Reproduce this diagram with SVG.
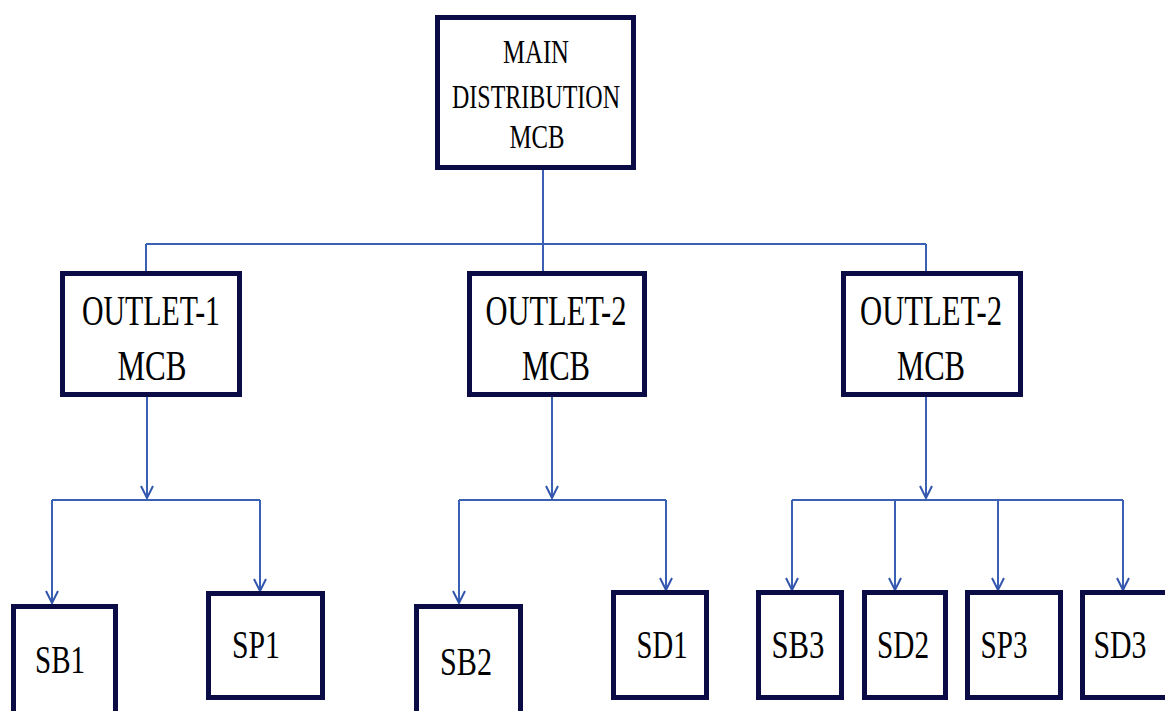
<svg xmlns="http://www.w3.org/2000/svg" width="1165" height="711" viewBox="0 0 1165 711">
<defs>
<marker id="arr" viewBox="-1 -7 15 14" refX="12" refY="0" markerWidth="15" markerHeight="14" markerUnits="userSpaceOnUse" orient="auto">
<path d="M0,-6 L12,0 L0,6" fill="none" stroke="#3356ad" stroke-width="2"/>
</marker>
<style>
.box{fill:#ffffff;stroke:#0b0b45;stroke-width:5}
.t{font-family:"Liberation Serif","Times New Roman",serif;fill:#000;text-anchor:middle}
.m{font-size:34px}
.o{font-size:42px}
.l{font-size:40px}
.c{fill:none;stroke:#3a60b4;stroke-width:2}
</style>
</defs>
<rect width="1165" height="711" fill="#ffffff"/>
<g id="connectors">
<path class="c" d="M543 170 V244 M146 244 H926 M146 244 V271 M543 244 V271 M926 244 V271"/>
<path class="c" d="M147 397 V498" marker-end="url(#arr)"/>
<path class="c" d="M52 500 H260"/>
<path class="c" d="M52 500 V603" marker-end="url(#arr)"/>
<path class="c" d="M260 500 V591" marker-end="url(#arr)"/>
<path class="c" d="M552 397 V498" marker-end="url(#arr)"/>
<path class="c" d="M459 500 H666"/>
<path class="c" d="M459 500 V603" marker-end="url(#arr)"/>
<path class="c" d="M666 500 V590" marker-end="url(#arr)"/>
<path class="c" d="M926 397 V498" marker-end="url(#arr)"/>
<path class="c" d="M792 500 H1123"/>
<path class="c" d="M792 500 V590" marker-end="url(#arr)"/>
<path class="c" d="M895 500 V590" marker-end="url(#arr)"/>
<path class="c" d="M998 500 V590" marker-end="url(#arr)"/>
<path class="c" d="M1123 500 V590" marker-end="url(#arr)"/>
</g>
<g id="main">
<rect class="box" x="437.5" y="17.5" width="196" height="150"/>
<text class="t m" x="536" y="63" textLength="66" lengthAdjust="spacingAndGlyphs">MAIN</text>
<text class="t m" x="536" y="108" textLength="168" lengthAdjust="spacingAndGlyphs">DISTRIBUTION</text>
<text class="t m" x="537" y="148" textLength="55" lengthAdjust="spacingAndGlyphs">MCB</text>
</g>
<g id="outlet1">
<rect class="box" x="62.5" y="273.5" width="177" height="121"/>
<text class="t o" x="151" y="325" textLength="138" lengthAdjust="spacingAndGlyphs">OUTLET-1</text>
<text class="t o" x="152" y="380" textLength="69" lengthAdjust="spacingAndGlyphs">MCB</text>
</g>
<g id="outlet2">
<rect class="box" x="469.5" y="273.5" width="175" height="121"/>
<text class="t o" x="556" y="325" textLength="141" lengthAdjust="spacingAndGlyphs">OUTLET-2</text>
<text class="t o" x="556" y="380" textLength="68" lengthAdjust="spacingAndGlyphs">MCB</text>
</g>
<g id="outlet3">
<rect class="box" x="843.5" y="273.5" width="177" height="121"/>
<text class="t o" x="931" y="325" textLength="142" lengthAdjust="spacingAndGlyphs">OUTLET-2</text>
<text class="t o" x="931" y="380" textLength="68" lengthAdjust="spacingAndGlyphs">MCB</text>
</g>
<g id="sb1">
<rect class="box" x="13.5" y="606.5" width="102" height="120"/>
<text class="t l" x="60" y="673" textLength="50" lengthAdjust="spacingAndGlyphs">SB1</text>
</g>
<g id="sp1">
<rect class="box" x="208.5" y="593.5" width="114" height="104"/>
<text class="t l" x="256" y="658" textLength="48" lengthAdjust="spacingAndGlyphs">SP1</text>
</g>
<g id="sb2">
<rect class="box" x="416.5" y="606.5" width="104" height="120"/>
<text class="t l" x="466" y="675" textLength="52" lengthAdjust="spacingAndGlyphs">SB2</text>
</g>
<g id="sd1">
<rect class="box" x="613.5" y="592.5" width="93" height="105"/>
<text class="t l" x="662" y="658" textLength="51" lengthAdjust="spacingAndGlyphs">SD1</text>
</g>
<g id="sb3">
<rect class="box" x="758.5" y="592.5" width="83" height="105"/>
<text class="t l" x="798" y="658" textLength="53" lengthAdjust="spacingAndGlyphs">SB3</text>
</g>
<g id="sd2">
<rect class="box" x="864.5" y="592.5" width="81" height="105"/>
<text class="t l" x="903" y="658" textLength="52" lengthAdjust="spacingAndGlyphs">SD2</text>
</g>
<g id="sp3">
<rect class="box" x="967.5" y="592.5" width="93" height="105"/>
<text class="t l" x="1004" y="658" textLength="47" lengthAdjust="spacingAndGlyphs">SP3</text>
</g>
<g id="sd3">
<rect class="box" x="1082.5" y="592.5" width="100" height="105"/>
<text class="t l" x="1120" y="658" textLength="53" lengthAdjust="spacingAndGlyphs">SD3</text>
</g>
</svg>
